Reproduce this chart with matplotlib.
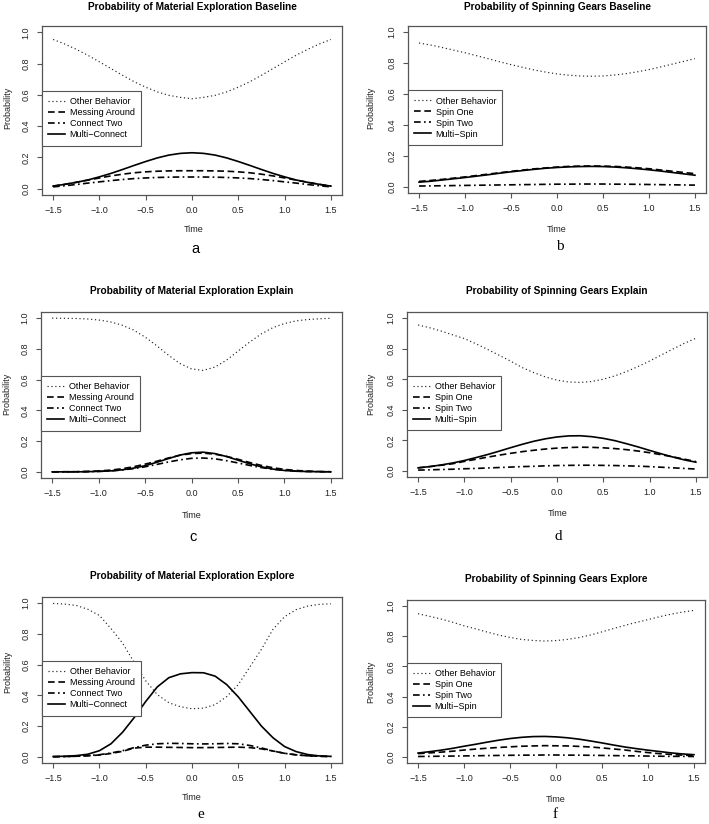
import matplotlib
matplotlib.use('Agg')
from matplotlib import pyplot as plt
from matplotlib.ticker import FixedLocator, FuncFormatter

# time grid (every 0.125 from -1.5 to 1.5)
TIME = [-1.5, -1.375, -1.25, -1.125, -1.0, -0.875, -0.75, -0.625, -0.5, -0.375, -0.25, -0.125,
        0.0, 0.125, 0.25, 0.375, 0.5, 0.625, 0.75, 0.875, 1.0, 1.125, 1.25, 1.375, 1.5]

ME_LABELS = ['Other Behavior', 'Messing Around', 'Connect Two', 'Multi\u2212Connect']
SG_LABELS = ['Other Behavior', 'Spin One', 'Spin Two', 'Multi\u2212Spin']

# a: Material Exploration Baseline
a_other = [0.954, 0.925, 0.891, 0.853, 0.811, 0.768, 0.725, 0.684, 0.649, 0.619, 0.597, 0.584, 0.575,
           0.584, 0.597, 0.619, 0.649, 0.684, 0.725, 0.768, 0.811, 0.853, 0.891, 0.925, 0.954]
a_mess = [0.017, 0.028, 0.041, 0.055, 0.069, 0.082, 0.093, 0.102, 0.108, 0.112, 0.114, 0.115, 0.115,
          0.115, 0.114, 0.112, 0.108, 0.102, 0.093, 0.082, 0.069, 0.055, 0.041, 0.028, 0.017]
a_two = [0.012, 0.019, 0.027, 0.036, 0.044, 0.052, 0.059, 0.065, 0.069, 0.072, 0.074, 0.075, 0.075,
         0.075, 0.074, 0.072, 0.069, 0.065, 0.059, 0.052, 0.044, 0.036, 0.027, 0.019, 0.012]
a_multi = [0.017, 0.028, 0.041, 0.056, 0.076, 0.098, 0.123, 0.149, 0.174, 0.197, 0.215, 0.226, 0.230,
           0.226, 0.215, 0.197, 0.174, 0.149, 0.123, 0.098, 0.076, 0.056, 0.041, 0.028, 0.017]

# b: Spinning Gears Baseline
b_other = [0.930, 0.917, 0.901, 0.884, 0.867, 0.848, 0.829, 0.809, 0.790, 0.773, 0.756, 0.742, 0.730,
           0.722, 0.717, 0.715, 0.717, 0.723, 0.732, 0.744, 0.758, 0.775, 0.793, 0.811, 0.829]
b_one = [0.035, 0.041, 0.048, 0.056, 0.064, 0.073, 0.082, 0.091, 0.100, 0.108, 0.116, 0.122, 0.128,
         0.132, 0.134, 0.135, 0.134, 0.132, 0.128, 0.123, 0.117, 0.109, 0.101, 0.093, 0.085]
b_two = [0.005, 0.006, 0.007, 0.008, 0.009, 0.010, 0.011, 0.012, 0.013, 0.014, 0.015, 0.016, 0.017,
         0.017, 0.018, 0.018, 0.018, 0.017, 0.017, 0.016, 0.015, 0.014, 0.013, 0.012, 0.011]
b_multi = [0.030, 0.036, 0.044, 0.052, 0.060, 0.069, 0.078, 0.088, 0.097, 0.105, 0.113, 0.120, 0.125,
           0.129, 0.131, 0.132, 0.131, 0.128, 0.123, 0.117, 0.110, 0.102, 0.093, 0.084, 0.075]

# c: Material Exploration Explain
c_other = [1.000, 0.999, 0.998, 0.995, 0.988, 0.976, 0.955, 0.923, 0.877, 0.821, 0.760, 0.705, 0.670,
           0.660, 0.681, 0.726, 0.785, 0.844, 0.897, 0.938, 0.965, 0.982, 0.991, 0.996, 0.999]
c_mess = [0.000, 0.001, 0.001, 0.003, 0.006, 0.011, 0.020, 0.033, 0.050, 0.069, 0.090, 0.108, 0.119,
          0.122, 0.115, 0.101, 0.082, 0.061, 0.042, 0.027, 0.016, 0.009, 0.005, 0.002, 0.001]
c_two = [0.000, 0.000, 0.001, 0.001, 0.003, 0.006, 0.012, 0.021, 0.033, 0.048, 0.064, 0.078, 0.088,
         0.090, 0.085, 0.073, 0.058, 0.042, 0.028, 0.017, 0.010, 0.005, 0.002, 0.001, 0.000]
c_multi = [0.000, 0.000, 0.000, 0.001, 0.003, 0.006, 0.013, 0.024, 0.040, 0.062, 0.086, 0.109, 0.124,
           0.128, 0.119, 0.100, 0.076, 0.053, 0.033, 0.018, 0.009, 0.004, 0.002, 0.001, 0.000]

# d: Spinning Gears Explain
d_other = [0.955, 0.937, 0.915, 0.890, 0.866, 0.832, 0.795, 0.757, 0.718, 0.676, 0.643, 0.615, 0.594,
           0.582, 0.579, 0.585, 0.600, 0.622, 0.650, 0.683, 0.719, 0.758, 0.797, 0.835, 0.868]
d_one = [0.020, 0.028, 0.037, 0.047, 0.062, 0.076, 0.090, 0.103, 0.115, 0.126, 0.135, 0.143, 0.149,
         0.153, 0.155, 0.154, 0.151, 0.146, 0.139, 0.130, 0.119, 0.106, 0.092, 0.077, 0.061]
d_two = [0.005, 0.007, 0.009, 0.011, 0.014, 0.016, 0.019, 0.022, 0.025, 0.028, 0.030, 0.033, 0.035,
         0.036, 0.037, 0.037, 0.036, 0.035, 0.033, 0.031, 0.028, 0.024, 0.020, 0.016, 0.012]
d_multi = [0.020, 0.028, 0.039, 0.052, 0.068, 0.087, 0.107, 0.129, 0.152, 0.174, 0.194, 0.210, 0.222,
           0.229, 0.230, 0.224, 0.213, 0.198, 0.178, 0.157, 0.134, 0.112, 0.091, 0.072, 0.057]

# e: Material Exploration Explore
e_other = [0.998, 0.994, 0.985, 0.960, 0.920, 0.835, 0.740, 0.615, 0.495, 0.405, 0.352, 0.326, 0.313,
           0.317, 0.340, 0.392, 0.470, 0.585, 0.700, 0.830, 0.912, 0.958, 0.981, 0.992, 0.996]
e_mess = [0.001, 0.002, 0.004, 0.007, 0.012, 0.022, 0.036, 0.057, 0.063, 0.063, 0.062, 0.061, 0.060,
          0.060, 0.061, 0.062, 0.063, 0.060, 0.052, 0.038, 0.023, 0.013, 0.007, 0.004, 0.002]
e_two = [0.001, 0.002, 0.004, 0.008, 0.014, 0.025, 0.040, 0.060, 0.076, 0.085, 0.088, 0.087, 0.085,
         0.084, 0.085, 0.087, 0.085, 0.074, 0.058, 0.038, 0.023, 0.013, 0.007, 0.004, 0.002]
e_multi = [0.002, 0.004, 0.008, 0.017, 0.040, 0.085, 0.160, 0.255, 0.360, 0.455, 0.515, 0.540, 0.548,
           0.547, 0.525, 0.470, 0.390, 0.295, 0.200, 0.124, 0.067, 0.034, 0.015, 0.006, 0.003]

# f: Spinning Gears Explore
f_other = [0.949, 0.932, 0.914, 0.893, 0.869, 0.849, 0.828, 0.808, 0.792, 0.779, 0.772, 0.768, 0.771,
           0.779, 0.791, 0.808, 0.829, 0.851, 0.872, 0.892, 0.910, 0.929, 0.946, 0.960, 0.971]
f_one = [0.022, 0.027, 0.032, 0.038, 0.046, 0.052, 0.058, 0.063, 0.067, 0.071, 0.073, 0.075, 0.074,
         0.073, 0.070, 0.066, 0.060, 0.053, 0.046, 0.037, 0.029, 0.022, 0.017, 0.012, 0.009]
f_two = [0.003, 0.004, 0.005, 0.006, 0.007, 0.008, 0.009, 0.010, 0.011, 0.012, 0.012, 0.013, 0.013,
         0.012, 0.012, 0.011, 0.010, 0.009, 0.008, 0.007, 0.006, 0.005, 0.004, 0.004, 0.003]
f_multi = [0.026, 0.035, 0.045, 0.057, 0.071, 0.084, 0.098, 0.111, 0.122, 0.130, 0.135, 0.136, 0.133,
           0.127, 0.118, 0.106, 0.093, 0.079, 0.066, 0.055, 0.045, 0.036, 0.027, 0.020, 0.015]

X_TICKS = [-1.5, -1.0, -0.5, 0.0, 0.5, 1.0, 1.5]
Y_TICKS = [0.0, 0.2, 0.4, 0.6, 0.8, 1.0]

W, H = 709, 824
GRAY = '#555555'
FS = 6.5

plt.rcParams['font.family'] = ['Liberation Sans', 'DejaVu Sans']

fig = plt.figure(figsize=(W / 100, H / 100), dpi=100)

tick_fmt = FuncFormatter(lambda v, pos: f'{v:.1f}'.replace('-', '\u2212'))


def px_text(x, y, s, **kw):
    fig.text(x / W, 1 - y / H, s, ha='center', va='center', **kw)


def draw_panel(box, title, labels, series, title_xy, time_xy, ylab_xy, letter, letter_xy, serif):
    x0, y0, x1, y1 = box
    ax = fig.add_axes([x0 / W, 1 - y1 / H, (x1 - x0) / W, (y1 - y0) / H])

    other, one, two, multi = series
    ax.plot(TIME, other, color='#222222', lw=0.85, linestyle=(0, (1.0, 2.3)), label=labels[0])
    ax.plot(TIME, one, color='black', lw=1.2, linestyle=(0, (4.0, 2.2)), label=labels[1])
    ax.plot(TIME, two, color='black', lw=1.2, linestyle=(0, (4.0, 2.0, 1.0, 2.0)), label=labels[2])
    ax.plot(TIME, multi, color='black', lw=1.2, linestyle='-', label=labels[3])

    ax.set_xlim(-1.62, 1.62)
    ax.set_ylim(-0.04, 1.04)
    ax.xaxis.set_major_locator(FixedLocator(X_TICKS))
    ax.yaxis.set_major_locator(FixedLocator(Y_TICKS))
    ax.xaxis.set_major_formatter(tick_fmt)
    ax.yaxis.set_major_formatter(tick_fmt)
    ax.tick_params(direction='out', length=3.6, width=0.8, color=GRAY,
                   labelsize=FS, labelcolor='#222222', pad=4.5)
    ax.tick_params(axis='y', labelrotation=90)
    for lab in ax.get_yticklabels():
        lab.set_va('center')
    for sp in ax.spines.values():
        sp.set_color(GRAY)
        sp.set_linewidth(0.9)

    leg = ax.legend(loc='upper left', bbox_to_anchor=(0, 0.615), borderaxespad=0,
                    fontsize=FS, handlelength=1.9, handletextpad=0.45, borderpad=0.7,
                    labelspacing=0.22, fancybox=False, framealpha=1, edgecolor=GRAY)
    leg.get_frame().set_linewidth(0.8)

    px_text(*title_xy, title, fontsize=7.3, fontweight='bold')
    px_text(*time_xy, 'Time', fontsize=FS, color='#222222')
    px_text(*ylab_xy, 'Probability', fontsize=FS, color='#222222', rotation=90)
    if serif:
        px_text(*letter_xy, letter, fontsize=11, family='Liberation Serif')
    else:
        px_text(*letter_xy, letter, fontsize=10.5)
    return ax


draw_panel((42, 26, 342, 195), 'Probability of Material Exploration Baseline', ME_LABELS,
           (a_other, a_mess, a_two, a_multi), (192, 7), (194, 229), (8, 108), 'a', (195, 249), False)
draw_panel((408, 26, 706, 193), 'Probability of Spinning Gears Baseline', SG_LABELS,
           (b_other, b_one, b_two, b_multi), (557, 7), (557, 229), (371, 108), 'b', (560, 247), True)
draw_panel((41, 312, 342, 478), 'Probability of Material Exploration Explain', ME_LABELS,
           (c_other, c_mess, c_two, c_multi), (192, 291), (192, 515), (7, 394), 'c', (193, 537), False)
draw_panel((407, 312, 707, 477), 'Probability of Spinning Gears Explain', SG_LABELS,
           (d_other, d_one, d_two, d_multi), (557, 291), (558, 514), (371, 394), 'd', (558, 537), True)
draw_panel((42, 597, 342, 763), 'Probability of Material Exploration Explore', ME_LABELS,
           (e_other, e_mess, e_two, e_multi), (192, 576), (192, 798), (8, 672), 'e', (201, 815), True)
draw_panel((407, 600, 705, 763), 'Probability of Spinning Gears Explore', SG_LABELS,
           (f_other, f_one, f_two, f_multi), (556, 579), (556, 800), (371, 682), 'f', (555, 815), True)

fig.savefig('out.png', dpi=100)
